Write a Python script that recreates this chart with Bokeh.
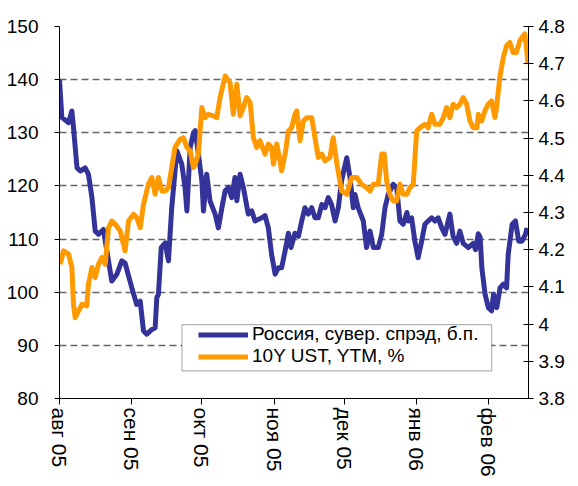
from bokeh.plotting import figure
from bokeh.models import (Range1d, LinearAxis, FixedTicker, Legend, LegendItem,
                          BoxAnnotation, ColumnDataSource)
from bokeh.embed import file_html
from bokeh.resources import INLINE

# ---- data (x = days since 1 Aug 2005) ----
month_days = [0, 31, 61, 92, 122, 153, 184]
month_labels = ["авг 05", "сен 05", "окт 05", "ноя 05", "дек 05", "янв 06", "фев 06"]
left_ticks = [80, 90, 100, 110, 120, 130, 140, 150]
right_ticks = [3.8, 3.9, 4.0, 4.1, 4.2, 4.3, 4.4, 4.5, 4.6, 4.7, 4.8]
right_labels = ["3.8", "3.9", "4", "4.1", "4.2", "4.3", "4.4", "4.5", "4.6", "4.7", "4.8"]

rus_days = [0, 1, 3.9, 5.3, 6, 7.5, 8.9, 11, 12.4, 13.9, 15.3, 16.7, 18.8, 20.3, 22.4, 24.6, 26.7, 28.1,
            31, 33.1, 34.6, 36, 37.4, 39.6, 41, 41.7, 42.4, 43.6, 45.3, 46.7, 48.1, 50.3, 52.4, 53.8,
            54.6, 56, 57.4, 58.2, 59.5, 61, 61.7, 63.1, 64.5, 66.7, 68.1, 69.6, 71, 72.4, 73.8, 75.2,
            76, 77.4, 78.8, 80.9, 82.4, 83.8, 86.7, 88.1, 89.5, 90.9, 92.4, 93.8, 95.2, 96.7, 98.1,
            99.2, 100.9, 102.4, 103.8, 105.2, 106.6, 108.1, 109.5, 110.9, 112.4, 113.8, 115.2, 116.6,
            118.1, 119.5, 120.9, 123.1, 124.5, 125.9, 126.6, 128, 130.2, 131.6, 133.1, 134.5, 136.6,
            138.1, 139.5, 140.9, 143, 144.5, 145.9, 147.3, 148.9, 149.5, 150.9, 152.3, 153.7, 155.2,
            156.6, 158, 159.5, 160.9, 162.3, 163.8, 165.2, 167.3, 168.7, 170.2, 171.6, 173, 175.2,
            177.3, 178.3, 179.5, 180.3, 181, 182.4, 183.8, 185.2, 186, 187.4, 188.8, 190.2, 191.6,
            192.3, 194, 195.4, 196.8, 198.2, 199.7, 200.4]
rus_spread = [140, 132.9, 131.9, 134.1, 131, 123.4, 122.8, 123.4, 122.2, 117.8, 111.5, 110.9, 111.8,
              107.8, 102.1, 103.4, 105.9, 105.5, 100.8, 97.7, 98.3, 92.7, 92.1, 93, 93.3, 99, 99.6,
              108.4, 109.3, 105.9, 115.9, 126.6, 124.1, 119.7, 115.3, 127.2, 130, 130.4, 126, 121,
              115.3, 122.2, 117.2, 114.7, 112.1, 115.9, 119.1, 119.7, 117.8, 121.6, 117.2, 122.2,
              119.7, 114.7, 115.3, 113.4, 114, 114.4, 112.1, 107.1, 103.4, 104.6, 104.6, 107.8,
              111.1, 108.4, 111.1, 110.5, 113.4, 115.9, 114.7, 115.9, 114, 114, 116.5, 115.9, 117.8,
              116.5, 113.4, 115.9, 121, 125.3, 121.6, 115.9, 118.4, 115.9, 113.4, 108.4, 111.5,
              108.4, 108.4, 110.9, 115.9, 118.4, 120.3, 119.7, 113.4, 112.8, 115, 113.4, 114, 109.6,
              106.5, 109.6, 112.8, 113.4, 114, 113.4, 114, 112.1, 110.9, 114.7, 110.5, 109.2, 111.5,
              109.2, 108.4, 109.2, 108, 111, 110.3, 104.6, 99.6, 97.1, 96.5, 99.6, 97.1, 100.8,
              101.5, 100.8, 107.1, 112.8, 113.4, 109.6, 109.6, 110.9, 112.1]

ust_days = [0.3, 1.7, 3.9, 5.3, 6, 6.7, 8.1, 9.6, 11.7, 12.4, 13.9, 15.3, 16.7, 18.2, 19.6, 21, 22.4,
            23.9, 26, 27.4, 28.1, 29.6, 31.7, 33.1, 34.6, 36, 38.1, 39.6, 41, 42.4, 43.9, 45.3, 46.7,
            48.1, 49.5, 51.7, 53.1, 54.6, 56, 57.4, 58.2, 59.5, 61, 62.4, 63.8, 66, 67.4, 68.8, 71,
            73.1, 74.5, 76, 77.4, 78.8, 80.2, 81.7, 83.1, 84.5, 85.9, 88.1, 89.5, 90.9, 91.7, 93.1,
            94.5, 95.2, 96.7, 98.1, 99.5, 100.9, 101.7, 103.1, 104.5, 105.9, 108.1, 109.5, 110.9,
            112.4, 113.8, 115.9, 117.3, 118.9, 120.9, 123.1, 125.2, 127.4, 129.5, 131.6, 133.1,
            134.5, 136.6, 138.1, 139.2, 140.2, 141.6, 143, 144.5, 145.9, 147.3, 148.9, 150.2, 151.6,
            153.1, 154.5, 156.6, 158, 159.5, 160.9, 163, 164.5, 165.9, 167.3, 168.7, 170.2, 171.6,
            173, 174.5, 175.9, 177.3, 178.9, 179.5, 180.9, 182.3, 183.7, 185.2, 186.6, 187.3, 188.7,
            190.2, 191.6, 193, 194.4, 195.8, 197.3, 198.7, 199.4, 200.1, 200.8]
ust_ytm = [4.161, 4.197, 4.188, 4.152, 4.053, 4.017, 4.035, 4.053, 4.049, 4.107, 4.152, 4.125, 4.161,
           4.179, 4.161, 4.259, 4.277, 4.268, 4.251, 4.215, 4.197, 4.277, 4.295, 4.286, 4.259, 4.322,
           4.376, 4.394, 4.349, 4.394, 4.358, 4.358, 4.367, 4.421, 4.475, 4.497, 4.501, 4.475, 4.466,
           4.421, 4.43, 4.457, 4.582, 4.555, 4.564, 4.56, 4.555, 4.609, 4.667, 4.649, 4.564, 4.645,
           4.56, 4.582, 4.609, 4.596, 4.501, 4.475, 4.493, 4.457, 4.484, 4.475, 4.43, 4.484, 4.439,
           4.412, 4.457, 4.519, 4.528, 4.564, 4.573, 4.493, 4.546, 4.555, 4.555, 4.501, 4.448,
           4.457, 4.439, 4.448, 4.501, 4.43, 4.358, 4.349, 4.394, 4.394, 4.376, 4.367, 4.358, 4.376,
           4.376, 4.457, 4.457, 4.385, 4.349, 4.331, 4.331, 4.376, 4.349, 4.349, 4.367, 4.376,
           4.519, 4.528, 4.537, 4.528, 4.564, 4.537, 4.537, 4.555, 4.582, 4.555, 4.591, 4.582,
           4.591, 4.609, 4.591, 4.546, 4.528, 4.528, 4.564, 4.546, 4.573, 4.591, 4.6, 4.555, 4.582,
           4.663, 4.717, 4.748, 4.757, 4.73, 4.73, 4.762, 4.775, 4.78, 4.744, 4.699]

FONT = "Liberation Sans"
BLUE = "#333399"
ORANGE = "#FF9900"

p = figure(frame_width=469, frame_height=372, x_range=Range1d(0, 201), y_range=Range1d(80, 150),
           output_backend="svg", toolbar_location=None,
           min_border_left=59, min_border_top=26, min_border_right=5, min_border_bottom=5)
p.outline_line_color = None
p.background_fill_color = "white"
p.border_fill_color = "white"
p.extra_y_ranges = {"ust": Range1d(3.8, 4.8)}

# axes styling
xa = p.xaxis[0]
xa.ticker = FixedTicker(ticks=month_days)
xa.major_label_overrides = {d: l for d, l in zip(month_days, month_labels)}
xa.major_label_orientation = "vertical"
xa.minor_tick_line_color = None
xa.major_tick_out = 6
xa.major_tick_in = 0
xa.major_label_standoff = 3
xa.axis_line_color = "black"
xa.major_tick_line_color = "black"
xa.major_label_text_font = FONT
xa.major_label_text_font_size = "21px"
xa.major_label_text_color = "black"

ya = p.yaxis[0]
ya.ticker = FixedTicker(ticks=left_ticks)
ya.minor_tick_line_color = None
ya.major_tick_out = 5
ya.major_tick_in = 0
ya.major_label_standoff = 16
ya.axis_line_color = "black"
ya.major_tick_line_color = "black"
ya.major_label_text_font = FONT
ya.major_label_text_font_size = "19px"
ya.major_label_text_color = "black"

ra = LinearAxis(y_range_name="ust", ticker=FixedTicker(ticks=right_ticks))
ra.major_label_overrides = {t: l for t, l in zip(right_ticks, right_labels)}
ra.minor_tick_line_color = None
ra.major_tick_out = 5
ra.major_tick_in = 5
ra.major_label_standoff = 5
ra.axis_line_color = "black"
ra.major_tick_line_color = "black"
ra.major_label_text_font = FONT
ra.major_label_text_font_size = "19px"
ra.major_label_text_color = "black"
p.add_layout(ra, "right")

p.xgrid.grid_line_color = None
p.ygrid.ticker = FixedTicker(ticks=left_ticks)
p.ygrid.grid_line_color = "#666666"
p.ygrid.grid_line_width = 1.5
p.ygrid.grid_line_dash = "7 4"

src_rus = ColumnDataSource(dict(x=rus_days, y=rus_spread))
src_ust = ColumnDataSource(dict(x=ust_days, y=ust_ytm))
r_rus = p.line("x", "y", source=src_rus, line_color=BLUE, line_width=5, line_join="round")
r_ust = p.line("x", "y", source=src_ust, line_color=ORANGE, line_width=5, line_join="round",
               y_range_name="ust")

# legend frame
box = BoxAnnotation(left=52.5, right=185.2, top=93.9, bottom=85.2,
                    fill_color="white", fill_alpha=1.0, line_color="black", line_width=1.2)
p.add_layout(box)

legend = Legend(items=[LegendItem(label="Россия, сувер. спрэд, б.п.", renderers=[r_rus]),
                       LegendItem(label="10Y UST, YTM, %", renderers=[r_ust])],
                location=(139, 31), padding=0, spacing=-3, margin=0,
                glyph_width=50, glyph_height=19, label_height=19, label_standoff=4,
                label_text_font=FONT, label_text_font_size="19px", label_text_color="black",
                border_line_alpha=0, background_fill_alpha=0)
p.add_layout(legend)

open("out.html", "w").write(file_html(p, INLINE))
